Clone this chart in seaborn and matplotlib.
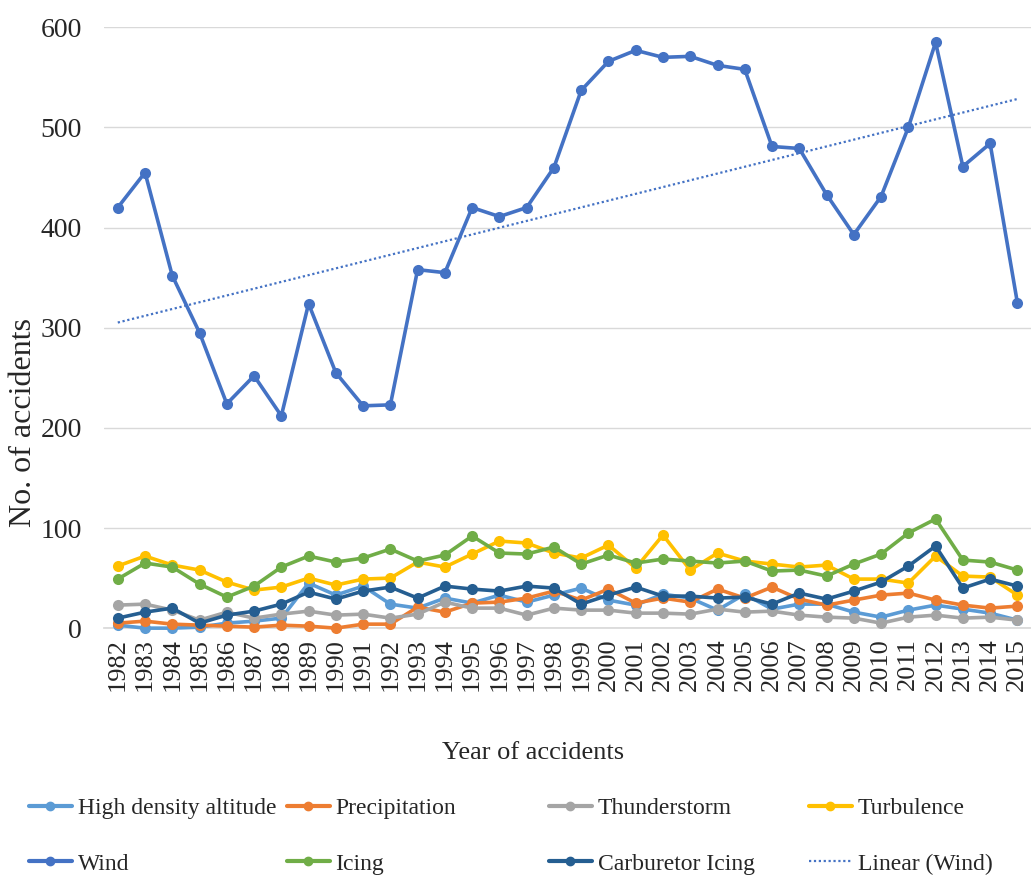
import numpy as np
import pandas as pd
import matplotlib
matplotlib.use("Agg")
import matplotlib.pyplot as plt
import seaborn as sns
from matplotlib.lines import Line2D

years = list(range(1982, 2016))

high_density_altitude = [3, 0, 0, 1, 5, 7, 10, 45, 33, 42, 24, 20, 30, 25, 33, 26, 33,
                         40, 28, 23, 34, 30, 18, 34, 19, 24, 24, 16, 11, 18, 23, 19, 15, 8]
precipitation = [5, 7, 4, 3, 2, 1, 3, 2, 0, 4, 4, 21, 16, 25, 26, 30, 37,
                 28, 39, 25, 30, 26, 39, 30, 41, 29, 23, 28, 33, 35, 28, 23, 20, 22]
thunderstorm = [23, 24, 18, 8, 16, 10, 14, 17, 13, 14, 10, 14, 26, 20, 20, 13, 20,
                18, 18, 15, 15, 14, 19, 16, 17, 13, 11, 10, 5, 11, 13, 10, 11, 8]
turbulence = [62, 72, 63, 58, 46, 38, 41, 50, 43, 49, 50, 66, 61, 74, 87, 85, 75,
              70, 83, 60, 93, 58, 75, 67, 64, 61, 63, 49, 49, 45, 72, 52, 51, 33]
wind = [420, 455, 352, 295, 224, 252, 212, 324, 255, 222, 223, 358, 355, 420, 411, 420, 460,
        537, 566, 577, 570, 571, 562, 558, 481, 479, 433, 393, 431, 500, 585, 461, 484, 325]
icing = [49, 65, 61, 44, 31, 42, 61, 72, 66, 70, 79, 67, 73, 92, 75, 74, 81,
         64, 73, 65, 69, 67, 65, 67, 57, 58, 52, 64, 74, 95, 109, 68, 66, 58]
carburetor_icing = [10, 16, 20, 5, 13, 17, 24, 36, 29, 37, 41, 30, 42, 39, 37, 42, 40,
                    24, 33, 41, 32, 32, 30, 31, 24, 35, 29, 37, 46, 62, 82, 40, 49, 42]

series = {
    "High density altitude": high_density_altitude,
    "Precipitation": precipitation,
    "Thunderstorm": thunderstorm,
    "Turbulence": turbulence,
    "Wind": wind,
    "Icing": icing,
    "Carburetor Icing": carburetor_icing,
}
colors = {
    "High density altitude": "#5B9BD5",
    "Precipitation": "#ED7D31",
    "Thunderstorm": "#A5A5A5",
    "Turbulence": "#FFC000",
    "Wind": "#4472C4",
    "Icing": "#70AD47",
    "Carburetor Icing": "#255E91",
}

sns.set_theme(style="white")
plt.rcParams["font.family"] = ["Liberation Serif", "DejaVu Serif"]

fig = plt.figure(figsize=(10.31, 8.81), dpi=100)
ax = fig.add_axes([0.101, 0.287, 0.899, 0.682])

for name, vals in series.items():
    df = pd.DataFrame({"year": years, "count": vals})
    sns.lineplot(data=df, x="year", y="count", ax=ax, color=colors[name],
                 linewidth=2.6, marker="o", markersize=8, markeredgewidth=0,
                 clip_on=False, zorder=3)

# linear trend of wind
coef = np.polyfit(years, wind, 1)
trend = np.polyval(coef, years)
ax.plot(years, trend, linestyle=(0, (1, 1.2)), color="#4472C4", linewidth=1.6, zorder=4)

ax.set_xlim(1981.5, 2015.5)
ax.set_ylim(0, 600)
ax.set_yticks(range(0, 601, 100))
ax.set_xticks(years)
ax.set_xticklabels([str(y) for y in years], rotation=90, fontsize=19)
ax.tick_params(axis="y", labelsize=20, pad=16, length=0)
ax.tick_params(axis="x", length=0, pad=7)
ax.yaxis.grid(True, color="#D9D9D9", linewidth=1)
ax.set_axisbelow(True)
for s in ["top", "right", "left"]:
    ax.spines[s].set_visible(False)
ax.spines["bottom"].set_color("#D9D9D9")

ax.set_xlabel("Year of accidents", fontsize=19)
ax.xaxis.set_label_coords(0.463, -0.19)
ax.set_ylabel("No. of accidents", fontsize=23)
ax.yaxis.set_label_coords(-0.071, 0.343)

# legend: four equal-width columns, two rows
legend_cols = [
    ["High density altitude", "Wind"],
    ["Precipitation", "Icing"],
    ["Thunderstorm", "Carburetor Icing"],
    ["Turbulence", "Linear (Wind)"],
]
col_x = [28, 286, 548, 808]
for names_col, x0 in zip(legend_cols, col_x):
    hs = []
    for n in names_col:
        if n == "Linear (Wind)":
            hs.append(Line2D([], [], color="#4472C4", linestyle=(0, (1, 1.2)), linewidth=1.6))
        else:
            hs.append(Line2D([], [], color=colors[n], linewidth=3, marker="o", markersize=6))
    fig.legend(hs, names_col, loc="upper left",
               bbox_to_anchor=(x0 / 1031 - 0.008, 1 - 788 / 881),
               frameon=False, fontsize=17, handlelength=1.8,
               handletextpad=0.25, labelspacing=1.45, borderaxespad=0)

fig.savefig("out.png", dpi=100)
